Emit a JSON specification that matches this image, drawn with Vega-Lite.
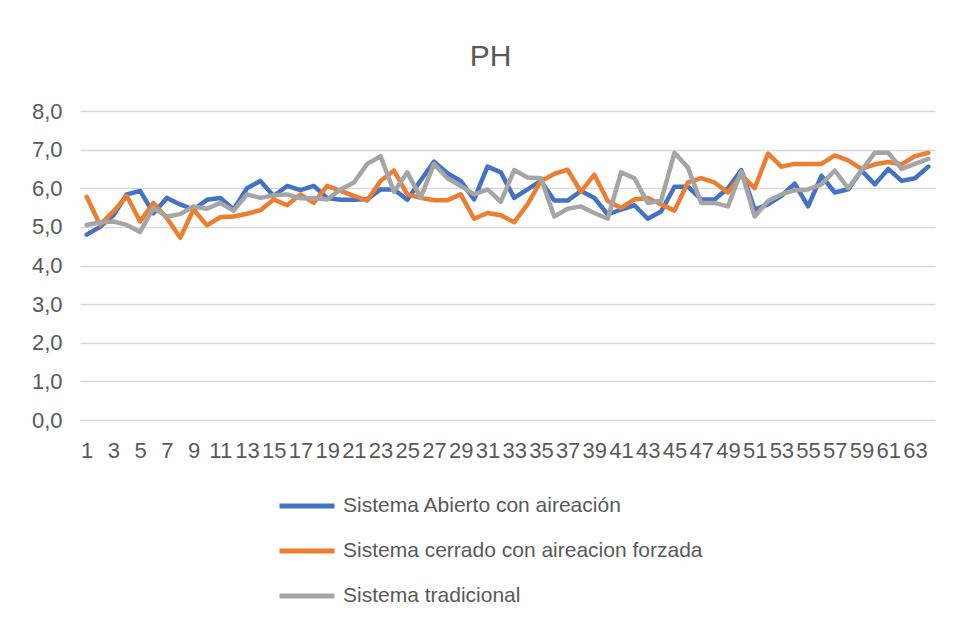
{
  "$schema": "https://vega.github.io/schema/vega-lite/v6.json",
  "autosize": "none",
  "padding": {"left": 80, "top": 111, "right": 23, "bottom": 205},
  "width": 855,
  "height": 309,
  "background": "white",
  "title": {"text": "PH", "fontSize": 30, "fontWeight": "normal", "color": "#595959", "font": "Liberation Sans", "anchor": "middle", "frame": "group", "offset": 28, "dx": -17},
  "data": {"values": [
    {"n":1,"a":4.8,"c":5.78,"t":5.05},{"n":2,"a":5.0,"c":5.05,"t":5.12},{"n":3,"a":5.3,"c":5.4,"t":5.14},{"n":4,"a":5.84,"c":5.8,"t":5.05},
    {"n":5,"a":5.93,"c":5.14,"t":4.87},{"n":6,"a":5.35,"c":5.62,"t":5.49},{"n":7,"a":5.75,"c":5.23,"t":5.27},{"n":8,"a":5.58,"c":4.72,"t":5.33},
    {"n":9,"a":5.45,"c":5.45,"t":5.53},{"n":10,"a":5.7,"c":5.04,"t":5.47},{"n":11,"a":5.75,"c":5.25,"t":5.62},{"n":12,"a":5.45,"c":5.27,"t":5.42},
    {"n":13,"a":6.0,"c":5.34,"t":5.84},{"n":14,"a":6.19,"c":5.43,"t":5.75},{"n":15,"a":5.8,"c":5.71,"t":5.82},{"n":16,"a":6.06,"c":5.56,"t":5.84},
    {"n":17,"a":5.95,"c":5.84,"t":5.74},{"n":18,"a":6.06,"c":5.62,"t":5.75},{"n":19,"a":5.75,"c":6.06,"t":5.71},{"n":20,"a":5.7,"c":5.93,"t":5.97},
    {"n":21,"a":5.7,"c":5.8,"t":6.15},{"n":22,"a":5.72,"c":5.68,"t":6.63},{"n":23,"a":5.97,"c":6.19,"t":6.83},{"n":24,"a":5.97,"c":6.46,"t":5.91},
    {"n":25,"a":5.7,"c":5.84,"t":6.41},{"n":26,"a":6.2,"c":5.75,"t":5.75},{"n":27,"a":6.69,"c":5.69,"t":6.63},{"n":28,"a":6.39,"c":5.69,"t":6.26},
    {"n":29,"a":6.19,"c":5.84,"t":6.06},{"n":30,"a":5.71,"c":5.21,"t":5.84},{"n":31,"a":6.56,"c":5.36,"t":5.97},{"n":32,"a":6.41,"c":5.3,"t":5.65},
    {"n":33,"a":5.75,"c":5.12,"t":6.47},{"n":34,"a":5.97,"c":5.58,"t":6.28},{"n":35,"a":6.19,"c":6.19,"t":6.26},{"n":36,"a":5.68,"c":6.37,"t":5.27},
    {"n":37,"a":5.68,"c":6.48,"t":5.47},{"n":38,"a":5.93,"c":5.91,"t":5.53},{"n":39,"a":5.75,"c":6.35,"t":5.36},{"n":40,"a":5.32,"c":5.67,"t":5.21},
    {"n":41,"a":5.45,"c":5.49,"t":6.41},{"n":42,"a":5.56,"c":5.71,"t":6.26},{"n":43,"a":5.21,"c":5.75,"t":5.62},{"n":44,"a":5.4,"c":5.58,"t":5.68},
    {"n":45,"a":6.04,"c":5.42,"t":6.92},{"n":46,"a":6.04,"c":6.15,"t":6.54},{"n":47,"a":5.71,"c":6.26,"t":5.62},{"n":48,"a":5.71,"c":6.15,"t":5.62},
    {"n":49,"a":6.0,"c":5.89,"t":5.53},{"n":50,"a":6.47,"c":6.35,"t":6.44},{"n":51,"a":5.45,"c":6.0,"t":5.27},{"n":52,"a":5.58,"c":6.9,"t":5.67},
    {"n":53,"a":5.8,"c":6.56,"t":5.84},{"n":54,"a":6.12,"c":6.63,"t":5.95},{"n":55,"a":5.53,"c":6.63,"t":5.97},{"n":56,"a":6.32,"c":6.63,"t":6.1},
    {"n":57,"a":5.89,"c":6.85,"t":6.46},{"n":58,"a":5.97,"c":6.72,"t":6.0},{"n":59,"a":6.46,"c":6.5,"t":6.46},{"n":60,"a":6.1,"c":6.62,"t":6.92},
    {"n":61,"a":6.5,"c":6.68,"t":6.92},{"n":62,"a":6.19,"c":6.62,"t":6.5},{"n":63,"a":6.26,"c":6.83,"t":6.63},{"n":64,"a":6.56,"c":6.92,"t":6.76}
  ]},
  "transform": [{"fold": ["a", "c", "t"], "as": ["serie", "ph"]}],
  "mark": {"type": "line", "strokeWidth": 4.5, "strokeCap": "round", "strokeJoin": "round"},
  "encoding": {
    "x": {"field": "n", "type": "quantitative",
          "scale": {"domain": [0.5, 64.5], "nice": false, "zero": false},
          "axis": {"values": [1,3,5,7,9,11,13,15,17,19,21,23,25,27,29,31,33,35,37,39,41,43,45,47,49,51,53,55,57,59,61,63],
                   "title": null, "grid": false, "ticks": false, "domain": false, "labelPadding": 20, "labelFlush": false, "labelOverlap": false}},
    "y": {"field": "ph", "type": "quantitative",
          "scale": {"domain": [0, 8], "nice": false},
          "axis": {"values": [0,1,2,3,4,5,6,7,8], "title": null, "ticks": false, "domain": false, "labelPadding": 18,
                   "labelExpr": "replace(format(datum.value, '.1f'), '.', ',')", "gridColor": "#d9d9d9", "gridWidth": 1.5}},
    "color": {"field": "serie", "type": "nominal",
              "scale": {"domain": ["a", "c", "t"], "range": ["#4472C4", "#ED7D31", "#A5A5A5"]},
              "legend": {"title": null, "orient": "none", "legendX": 197, "legendY": 365, "direction": "vertical",
                         "symbolType": "stroke", "symbolSize": 3025, "symbolStrokeWidth": 5, "labelOffset": 6, "labelLimit": 0,
                         "labelExpr": "datum.value == 'a' ? 'Sistema Abierto con aireación' : datum.value == 'c' ? 'Sistema cerrado con aireacion forzada' : 'Sistema tradicional'",
                         "rowPadding": 5}}
  },
  "config": {
    "view": {"stroke": null},
    "font": "Liberation Sans",
    "axis": {"labelFontSize": 22, "labelColor": "#595959", "labelFont": "Liberation Sans"},
    "legend": {"labelFontSize": 21, "labelColor": "#595959", "labelFont": "Liberation Sans"}
  }
}
